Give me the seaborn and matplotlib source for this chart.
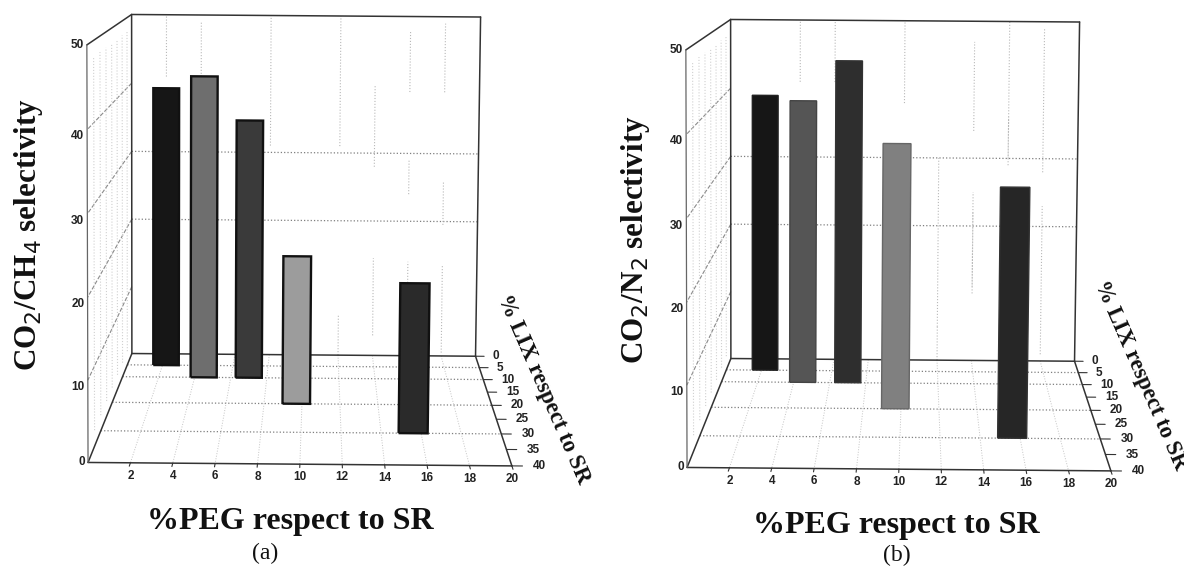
import matplotlib
matplotlib.use("Agg")
import matplotlib.pyplot as plt
import seaborn as sns

sns.set_theme(style="white")
plt.rcParams["axes3d.grid"] = False

# Shared categories
peg_ticks = [2, 4, 6, 8, 10, 12, 14, 16, 18, 20]
lix_ticks = [0, 5, 10, 15, 20, 25, 30, 35, 40]
sel_ticks = [0, 10, 20, 30, 40, 50]

# Bars: PEG position, LIX position
bar_peg = [2.2, 4.5, 7.0, 9.7, 15.6]
bar_lix = [5, 10, 10, 20, 30]
sel_a = [40.0, 42.4, 36.3, 19.9, 19.2]
sel_b = [39.7, 39.7, 45.3, 35.6, 32.0]
greys_a = ["#161616", "#6e6e6e", "#3a3a3a", "#9c9c9c", "#2a2a2a"]
greys_b = ["#161616", "#555555", "#2e2e2e", "#808080", "#262626"]
edges_a = ["#111111", "#111111", "#111111", "#111111", "#111111"]
edges_b = ["#222222", "#444444", "#333333", "#666666", "#333333"]

# Faint dotted fragments on the back wall: PEG, selectivity low, selectivity high
wall_a = [(2, 41, 50), (4, 41, 49), (8, 31, 50), (12, 31, 50), (16, 39, 48), (18, 39, 49),
          (14, 28, 40), (16, 24, 29), (18, 19.5, 26), (14, 3, 14.5), (12, 0, 6), (16, 10, 14), (18, 0.5, 13.5)]
wall_b = [(4, 41, 50), (6, 41, 50), (10, 38, 50), (14, 34, 47), (16, 30, 50), (18, 35, 49),
          (12, 0, 5), (14, 10, 22), (16, 29, 36), (18, 28, 35), (12, 5, 30), (14, 11, 25), (18, 1, 23)]
floor_grid_lix = [5, 10, 20, 30]
wall_grid_sel = [20, 30]
side_grid_sel = [10, 20, 30, 40]
side_grid_lix = [5, 10, 15, 20, 25, 30, 35]

W, H = 1184, 578
fig = plt.figure(figsize=(W / 100, H / 100), dpi=100, facecolor="white")
TICK = dict(family="Liberation Sans", fontweight="bold", fontsize=8.5, color="#222222")
DARK = "#333333"


def panel(left_px, top_px, sel, greys, edges, wall, edge_lw):
    side = 500
    ax = fig.add_axes([left_px / W, 1 - (top_px + side) / H, side / W, side / H], projection="3d")
    ax.set_proj_type("persp", focal_length=1.0)
    ax.set_box_aspect((1.414, 2.12, 1.393), zoom=1.5265)
    ax.view_init(elev=7, azim=-89.7, roll=-0.4)
    ax.computed_zorder = False
    ax.set_axis_off()
    ax.patch.set_alpha(0)

    def line(xs, ys, zs, **kw):
        kw.setdefault("clip_on", False)
        ax.plot(xs, ys, zs, **kw)

    solid = dict(color=DARK, lw=1.1, zorder=2)
    dots = dict(color="#7f7f7f", lw=0.9, ls=":", zorder=1)
    dash = dict(color="#8a8a8a", lw=0.8, ls="--", zorder=1)

    for l in floor_grid_lix:
        line([0, 20], [l, l], [0, 0], **dots)
    for p in peg_ticks[:-1]:
        line([p, p], [0, 40], [0, 0], color="#c4c4c4", lw=0.7, ls=":", zorder=1)
    for s in wall_grid_sel:
        line([0, 20], [0, 0], [s, s], **dots)
    for p, lo, hi in wall:
        line([p, p], [0, 0], [lo, hi], color="#b8b8b8", lw=0.8, ls=":", zorder=1)
    for s in side_grid_sel:
        line([0, 0], [0, 40], [s, s], **dash)
    for l in side_grid_lix:
        line([0, 0], [l, l], [2, 48], color="#d0d0d0", lw=0.8, ls=":", zorder=1)

    # Box edges
    line([0, 20], [40, 40], [0, 0], **solid)
    line([0, 20], [0, 0], [0, 0], **solid)
    line([0, 0], [0, 40], [0, 0], **solid)
    line([20, 20], [0, 40], [0, 0], **solid)
    line([0, 0], [0, 0], [0, 50], **solid)
    line([20, 20], [0, 0], [0, 50], **solid)
    line([0, 20], [0, 0], [50, 50], **solid)
    line([0, 0], [0, 40], [50, 50], **solid)
    line([0, 0], [40, 40], [0, 50], color="#666666", lw=0.9, zorder=2)

    # Bars
    for i, (p, l, s) in enumerate(zip(bar_peg, bar_lix, sel)):
        bars = ax.bar([p], [s], zs=l, zdir="y", width=1.45, color=greys[i], edgecolor=edges[i],
                      linewidth=edge_lw, zorder=5 + i)
        for b in bars:
            b.set_clip_on(False)

    # Ticks and tick labels
    for p in peg_ticks:
        line([p, p], [40, 41], [0, 0], color=DARK, lw=0.8, zorder=2)
        ax.text(p, 40, -0.85, str(p), ha="center", va="top", **TICK)
    for l in lix_ticks:
        line([20, 20.5], [l, l], [0, 0], color=DARK, lw=0.8, zorder=2)
        ax.text(21, l, 0, str(l), ha="left", va="center", **TICK)
    for s in sel_ticks:
        offset = 0.8 if 0 < s < 50 else 0
        ax.text(-0.15, 40, s - offset, str(s), ha="right", va="center", **TICK)

    ax.set_xlim(0, 20)
    ax.set_ylim(40, 0)
    ax.set_zlim(0, 50)
    return ax


panel(46.5, -25, sel_a, greys_a, edges_a, wall_a, 1.7)
panel(645.5, -20, sel_b, greys_b, edges_b, wall_b, 1.0)


def ftext(x, y, s, **kw):
    fig.text(x / W, 1 - y / H, s, ha="center", va="center", rotation_mode="anchor",
             family="Liberation Serif", color="#111111", **kw)


ftext(290, 521, "%PEG respect to SR", fontweight="bold", fontsize=23)
ftext(896, 525, "%PEG respect to SR", fontweight="bold", fontsize=23)
ftext(265, 553, "(a)", fontsize=17)
ftext(897, 555, "(b)", fontsize=17)
ftext(29, 235, "CO$_2$/CH$_4$ selectivity", rotation=90, fontweight="bold", fontsize=22.4)
ftext(635, 240, "CO$_2$/N$_2$ selectivity", rotation=90, fontweight="bold", fontsize=22.4)
ftext(543, 389, "% LIX respect to SR", rotation=-66.5, fontweight="bold", fontsize=16.5)
ftext(1140, 375, "% LIX respect to SR", rotation=-66.5, fontweight="bold", fontsize=16.5)

fig.savefig("out.png", dpi=100, facecolor="white")
